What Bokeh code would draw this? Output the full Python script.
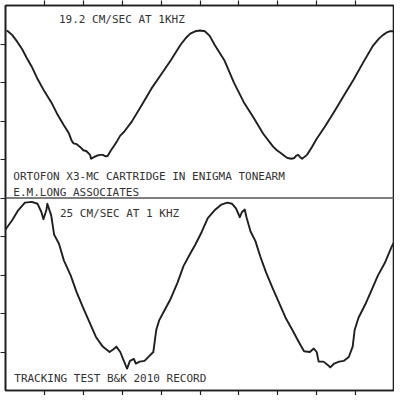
from bokeh.plotting import figure
from bokeh.models import FixedTicker, Span, Range1d, LinearAxis, ColumnDataSource
from bokeh.core.properties import value
from bokeh.embed import file_html
from bokeh.resources import INLINE

# Oscilloscope divisions (x: 10 divisions, y: 10 divisions, two traces of 5 each)
top_time = [0.025, 0.075, 0.175, 0.3, 0.425, 0.55, 0.675, 0.825, 1.0, 1.175,
            1.325, 1.5, 1.625, 1.7, 1.75, 1.825, 1.925, 2.0, 2.075, 2.175,
            2.2, 2.25, 2.325, 2.425, 2.5, 2.575, 2.625, 2.7, 2.8, 2.875,
            2.95, 3.05, 3.25, 3.5, 3.75, 4.0, 4.25, 4.5, 4.65, 4.75,
            4.875, 5.0, 5.125, 5.25, 5.375, 5.625, 5.875, 6.125, 6.375, 6.625,
            6.8, 6.875, 6.975, 7.075, 7.175, 7.25, 7.35, 7.425, 7.475, 7.525,
            7.575, 7.625, 7.75, 7.875, 8.0, 8.2, 8.45, 8.7, 8.95, 9.2,
            9.45, 9.6, 9.7, 9.8, 9.875, 10.0]
top_level = [9.35, 9.32, 9.23, 9.06, 8.87, 8.63, 8.41, 8.09, 7.77, 7.49,
             7.19, 6.89, 6.69, 6.49, 6.42, 6.40, 6.32, 6.24, 6.22, 6.12,
             6.02, 6.05, 6.09, 6.12, 6.12, 6.08, 6.09, 6.22, 6.37, 6.49,
             6.62, 6.72, 6.99, 7.41, 7.84, 8.21, 8.58, 8.98, 9.17, 9.27,
             9.33, 9.35, 9.33, 9.21, 8.98, 8.58, 7.99, 7.49, 7.09, 6.67,
             6.44, 6.34, 6.24, 6.17, 6.09, 6.04, 6.02, 6.04, 6.10, 6.12,
             6.06, 6.02, 6.12, 6.32, 6.54, 6.84, 7.24, 7.66, 8.08, 8.53,
             8.96, 9.14, 9.23, 9.30, 9.33, 9.33]

bottom_time = [0.0, 0.175, 0.325, 0.5, 0.675, 0.825, 0.925, 0.975, 1.05, 1.075,
               1.175, 1.25, 1.375, 1.5, 1.675, 1.825, 2.0, 2.175, 2.325, 2.5,
               2.675, 2.775, 2.85, 2.95, 3.05, 3.125, 3.2, 3.3, 3.35, 3.45,
               3.575, 3.7, 3.8, 3.875, 3.95, 4.075, 4.25, 4.425, 4.575, 4.75,
               4.875, 5.05, 5.2, 5.375, 5.55, 5.7, 5.825, 5.925, 6.025, 6.075,
               6.15, 6.2, 6.3, 6.425, 6.55, 6.7, 6.875, 7.05, 7.2, 7.375,
               7.55, 7.675, 7.825, 7.925, 8.0, 8.05, 8.175, 8.3, 8.35, 8.45,
               8.575, 8.7, 8.825, 8.925, 8.975, 9.075, 9.25, 9.425, 9.575, 9.75,
               9.925, 10.0]
bottom_level = [4.18, 4.43, 4.68, 4.88, 4.90, 4.85, 4.63, 4.45, 4.68, 4.85,
                4.55, 4.05, 3.81, 3.38, 2.99, 2.56, 2.14, 1.74, 1.39, 1.14,
                1.00, 1.07, 1.14, 1.00, 0.75, 0.57, 0.77, 0.82, 0.70, 0.75,
                0.77, 0.90, 1.00, 1.57, 1.82, 2.06, 2.39, 2.81, 3.23, 3.56,
                3.78, 4.13, 4.48, 4.68, 4.83, 4.88, 4.85, 4.73, 4.50, 4.63,
                4.70, 4.48, 4.13, 3.88, 3.48, 3.06, 2.64, 2.24, 1.89, 1.57,
                1.24, 1.02, 1.00, 1.09, 1.00, 0.75, 0.75, 0.65, 0.60, 0.70,
                0.75, 0.77, 0.87, 1.14, 1.57, 1.89, 2.24, 2.64, 2.99, 3.31,
                3.73, 3.88]

x_ticks = [1, 2, 3, 4, 5, 6, 7, 8, 9]
y_ticks = [1, 2, 3, 4, 5, 6, 7, 8, 9]

labels = ["19.2 CM/SEC AT 1KHZ",
          "ORTOFON X3-MC CARTRIDGE IN ENIGMA TONEARM",
          "E.M.LONG ASSOCIATES",
          "25 CM/SEC AT 1 KHZ",
          "TRACKING TEST B&K 2010 RECORD"]
label_x = [1.375, 0.2, 0.2, 1.4, 0.225]
label_y = [9.64, 5.57, 5.15, 4.60, 0.30]

INK = "#1f1f1f"

p = figure(width=394, height=395, x_range=Range1d(0, 10), y_range=Range1d(0, 10),
           output_backend="svg", toolbar_location=None)
p.min_border = 0
p.min_border_left = 5
p.min_border_top = 5
p.outline_line_color = INK
p.outline_line_width = 1.6
p.xgrid.visible = False
p.ygrid.visible = False
p.background_fill_color = "white"
p.border_fill_color = "white"

top_axis = LinearAxis()
p.add_layout(top_axis, "above")


def style_axis(ax, ticks):
    ax.ticker = FixedTicker(ticks=ticks)
    ax.major_tick_in = 0
    ax.major_tick_out = 5
    ax.minor_tick_line_color = None
    ax.major_tick_line_color = INK
    ax.major_tick_line_width = 1.2
    ax.axis_line_color = INK
    ax.axis_line_width = 1.6
    ax.major_label_overrides = {t: "" for t in ticks}
    ax.major_label_text_font_size = "0px"
    ax.major_label_standoff = 0


for ax in p.xaxis:
    style_axis(ax, x_ticks)
for ax in p.yaxis:
    style_axis(ax, y_ticks)

# divider between the two traces
p.add_layout(Span(location=5, dimension="width", line_color="#555555", line_width=1.4))

p.line(top_time, top_level, line_color=INK, line_width=1.9, line_join="round")
p.line(bottom_time, bottom_level, line_color=INK, line_width=1.9, line_join="round")

src = ColumnDataSource(dict(x=label_x, y=label_y, t=labels))
p.text(x="x", y="y", text="t", source=src, text_font=value("DejaVu Sans Mono"),
       text_font_size="11px", text_baseline="middle", text_align="left",
       text_color="#333333")

open("out.html", "w").write(file_html(p, INLINE))
